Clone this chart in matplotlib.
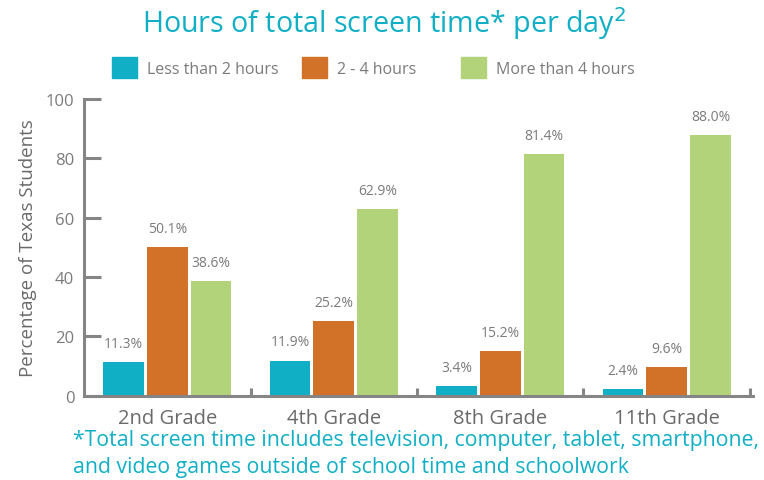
import numpy as np
import matplotlib
matplotlib.use("Agg")
import matplotlib.pyplot as plt
from matplotlib.patches import Patch

plt.rcParams["font.family"] = ["Open Sans", "DejaVu Sans"]

# ---------------------------------------------------------------- data
grades = ["2nd Grade", "4th Grade", "8th Grade", "11th Grade"]
series = ["Less than 2 hours", "2 - 4 hours", "More than 4 hours"]
less2 = [11.3, 11.9, 3.4, 2.4]
two4 = [50.1, 25.2, 15.2, 9.6]
more4 = [38.6, 62.9, 81.4, 88.0]

C_CYAN = "#10afc6"
C_ORANGE = "#d27128"
C_GREEN = "#b3d37b"
C_TEXT = "#7b7b7b"
C_AXIS = "#858585"
colors = [C_CYAN, C_ORANGE, C_GREEN]

fig = plt.figure(figsize=(7.64, 4.81), dpi=100)
ax = fig.add_axes([0.110, 0.175, 0.876, 0.617])

x = np.arange(len(grades))
w = 0.245
step = 0.263
for k, (vals, col) in enumerate(zip([less2, two4, more4], colors)):
    xs = x + (k - 1) * step
    ax.bar(xs, vals, width=w, color=col, label=series[k], zorder=2)
    for xi, v in zip(xs, vals):
        ax.annotate(f"{v:.1f}%", (xi, v), xytext=(0, 8), textcoords="offset points",
                    ha="center", va="bottom", fontsize=10, color=C_TEXT)

ax.set_xlim(-0.5, 3.52)
ax.set_ylim(0, 100)
ax.set_yticks([0, 20, 40, 60, 80, 100])
ax.tick_params(axis="y", direction="in", length=12, width=2.2, color=C_AXIS,
               labelsize=12, labelcolor=C_TEXT, pad=7)
ax.set_xticks(x)
ax.set_xticklabels(grades)
ax.tick_params(axis="x", length=0, labelsize=14.5, labelcolor="#6a6a6a", pad=9)
ax.set_xticks(np.arange(0.5, 4.0, 1.0), minor=True)
ax.tick_params(axis="x", which="minor", direction="in", length=6, width=2.2, color=C_AXIS)

for s in ["top", "right"]:
    ax.spines[s].set_visible(False)
for s in ["left", "bottom"]:
    ax.spines[s].set_color(C_AXIS)
    ax.spines[s].set_linewidth(2.2)

ax.set_ylabel("Percentage of Texas Students", fontsize=13.5, color="#6a6a6a", labelpad=6)

fig.text(0.503, 0.952, "Hours of total screen time* per day$^{2}$", ha="center", va="center",
         fontsize=20.6, color=C_CYAN)

# legend entries placed one by one (uneven spacing in the original)
leg_x = [0.146, 0.395, 0.603]
for k in range(3):
    lg = fig.legend(handles=[Patch(color=colors[k], label=series[k])], loc="center left",
                    bbox_to_anchor=(leg_x[k], 0.858), frameon=False, fontsize=11.5,
                    labelcolor=C_TEXT, handlelength=1.6, handleheight=1.6,
                    handletextpad=0.6, borderaxespad=0, borderpad=0)

fig.text(0.095, 0.085, "*Total screen time includes television, computer, tablet, smartphone,",
         ha="left", va="center", fontsize=15.3, color=C_CYAN)
fig.text(0.095, 0.028, "and video games outside of school time and schoolwork",
         ha="left", va="center", fontsize=15.3, color=C_CYAN)

fig.savefig("out.png", dpi=100)
